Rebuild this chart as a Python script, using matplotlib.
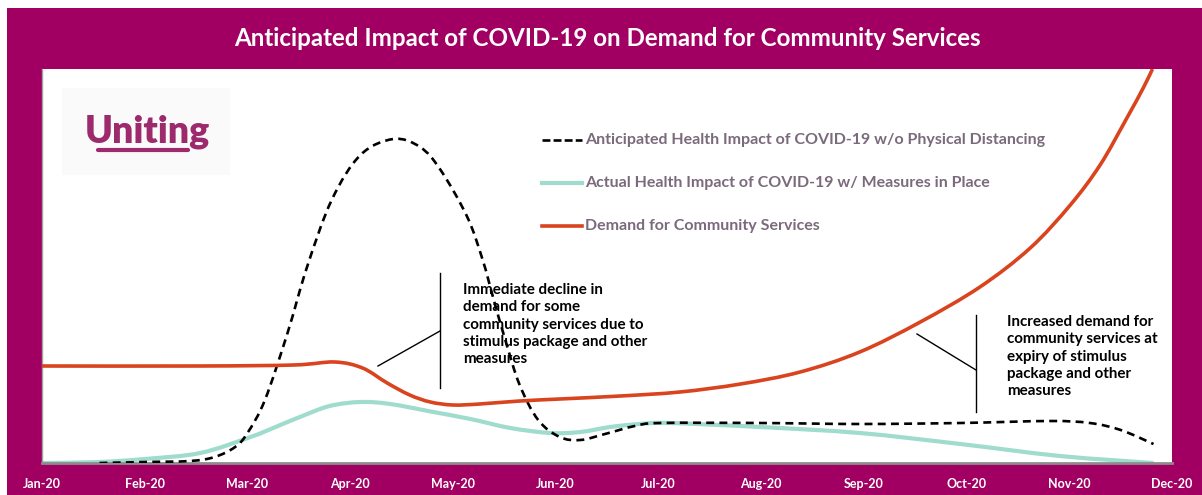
import numpy as np
import matplotlib.pyplot as plt
from matplotlib.patches import Rectangle, PathPatch
from matplotlib.lines import Line2D
from matplotlib.path import Path

# months since Jan-20
months = ["Jan-20", "Feb-20", "Mar-20", "Apr-20", "May-20", "Jun-20",
          "Jul-20", "Aug-20", "Sep-20", "Oct-20", "Nov-20", "Dec-20"]

# anticipated health impact without distancing (dashed)
antic_x = [0.56, 1.00, 1.44, 1.68, 1.88, 2.00, 2.17, 2.39, 2.58, 2.82, 3.10, 3.42,
           3.68, 3.88, 4.14, 4.29, 4.39, 4.51, 4.65, 4.83, 5.04, 5.24, 5.48, 5.77,
           6.02, 6.99, 7.96, 8.94, 9.81, 10.20, 10.50, 10.82]
antic_y = [0, 1, 2, 6, 16, 30, 63, 130, 196, 263, 308, 324,
           316, 293, 246, 203, 166, 123, 78, 43, 26, 23, 29, 37,
           40, 40, 39, 40, 42, 40, 33, 19]

# actual health impact with measures (teal)
actual_x = [0, 0.56, 1.00, 1.54, 2.03, 2.32, 2.51, 2.80, 3.10, 3.39, 3.81, 4.17,
            4.56, 4.95, 5.24, 5.53, 5.82, 6.11, 6.99, 7.96, 8.94, 9.91, 10.82]
actual_y = [0, 1, 4, 10, 26, 38, 46, 57, 61, 59, 51, 44,
            35, 30, 31, 36, 39, 40, 36, 30, 19, 7, 0]

# demand for community services (red)
demand_x = [0, 1.54, 2.45, 2.85, 3.12, 3.36, 3.58, 3.78, 4.00, 4.26, 4.65,
            5.04, 5.63, 6.21, 6.80, 7.38, 7.96, 8.55, 9.13, 9.62, 10.01, 10.30,
            10.55, 10.72, 10.81]
demand_y = [97, 97, 98, 101, 95, 80, 68, 61, 58, 59, 62,
            64, 67, 71, 79, 91, 111, 141, 176, 215, 258, 298,
            343, 375, 394]

MAGENTA = '#a10062'
RED = '#d9441f'
TEAL = '#9fdccd'
W, H = 1202, 495

plt.rcParams['font.family'] = ['Lato', 'DejaVu Sans']


def smooth_path(xs, ys):
    # catmull-rom through the points, drawn as cubic bezier segments (like Excel's smoothed line)
    p = np.column_stack([xs, ys]).astype(float)
    verts = [p[0]]
    codes = [Path.MOVETO]
    n = len(p)
    for i in range(n - 1):
        p0 = p[i - 1] if i > 0 else p[i]
        p3 = p[i + 2] if i + 2 < n else p[i + 1]
        c1 = p[i] + (p[i + 1] - p0) / 6
        c2 = p[i + 1] - (p3 - p[i]) / 6
        verts += [c1, c2, p[i + 1]]
        codes += [Path.CURVE4] * 3
    return Path(verts, codes)


fig = plt.figure(figsize=(W / 100, H / 100), dpi=100)
fig.patch.set_facecolor('white')

# magenta frame
fig.patches.append(Rectangle((7 / W, 0), 1 - 7 / W, 1 - 8 / H, transform=fig.transFigure,
                             facecolor=MAGENTA, edgecolor='none', zorder=-5))

ax = fig.add_axes([42 / W, (H - 463) / H, 1130 / W, (463 - 69) / H])
ax.set_zorder(1)
ax.set_facecolor('white')

ax.add_patch(PathPatch(smooth_path(antic_x, antic_y), facecolor='none', edgecolor='black',
                       lw=1.9, linestyle=(0, (3, 2)), zorder=3))
ax.add_patch(PathPatch(smooth_path(actual_x, actual_y), facecolor='none', edgecolor=TEAL,
                       lw=3.0, zorder=2, capstyle='butt'))
ax.add_patch(PathPatch(smooth_path(demand_x, demand_y), facecolor='none', edgecolor=RED,
                       lw=2.6, zorder=4, capstyle='butt'))

ax.set_xlim(0, 11)
ax.set_ylim(0, 394)
ax.set_yticks([])
ax.set_xticks(range(len(months)))
ax.set_xticklabels(months, color='white', fontsize=9, fontweight='bold')
ax.tick_params(axis='x', length=0, pad=11)
for s in ['top', 'right']:
    ax.spines[s].set_visible(False)
ax.spines['bottom'].set_color('#8c8c8c')
ax.spines['bottom'].set_linewidth(2)
ax.spines['left'].set_color('#a0a0a0')
ax.spines['left'].set_linewidth(1)

# title
fig.text(607 / W, 1 - 38 / H, "Anticipated Impact of COVID-19 on Demand for Community Services",
         color='white', fontsize=17.4, fontweight='bold', ha='center', va='center')

# logo
fig.patches.append(Rectangle((62 / W, 1 - 175 / H), 168 / W, 87 / H, transform=fig.transFigure,
                             facecolor='#fbfafb', edgecolor='none', zorder=6))
fig.text(85 / W, 1 - 142 / H, "Uniting", color='#9c2a6c', fontsize=27, fontweight='heavy',
         ha='left', va='baseline', zorder=7)
fig.lines.append(Line2D([98 / W, 188 / W], [1 - 150 / H, 1 - 150 / H], transform=fig.transFigure,
                        color='#9c2a6c', lw=3, solid_capstyle='round', zorder=7))

# legend
legend_rows = [("Anticipated Health Impact of COVID-19 w/o Physical Distancing", 'black', (0, (3, 1.2)), 1.9),
               ("Actual Health Impact of COVID-19 w/ Measures in Place", TEAL, '-', 3.0),
               ("Demand for Community Services", RED, '-', 2.6)]
for i, (label, c, ls, lw) in enumerate(legend_rows):
    yy = 1 - (140 + 43 * i) / H
    fig.lines.append(Line2D([542 / W, 582 / W], [yy, yy], transform=fig.transFigure,
                            color=c, lw=lw, linestyle=ls, zorder=7))
    fig.text(585 / W, yy, label, color='#7a6a7c', fontsize=11.5, fontweight='bold',
             ha='left', va='center', zorder=7)

# annotation callouts
def px(x, y):
    return (x / W, 1 - y / H)

for (x0, y0), (x1, y1) in [((440, 273), (440, 388)), ((378, 366), (440, 331)),
                           ((976, 315), (976, 412)), ((917, 334), (976, 370))]:
    a, b = px(x0, y0)
    c, d = px(x1, y1)
    fig.lines.append(Line2D([a, c], [b, d], transform=fig.transFigure, color='black', lw=1.0, zorder=7))

fig.text(463 / W, 1 - 283 / H,
         "Immediate decline in\ndemand for some\ncommunity services due to\nstimulus package and other\nmeasures",
         fontsize=10.9, fontweight='bold', color='black', ha='left', va='top', linespacing=1.3, zorder=7)
fig.text(1007 / W, 1 - 315 / H,
         "Increased demand for\ncommunity services at\nexpiry of stimulus\npackage and other\nmeasures",
         fontsize=10.9, fontweight='bold', color='black', ha='left', va='top', linespacing=1.3, zorder=7)

fig.savefig('out.png', dpi=100)
